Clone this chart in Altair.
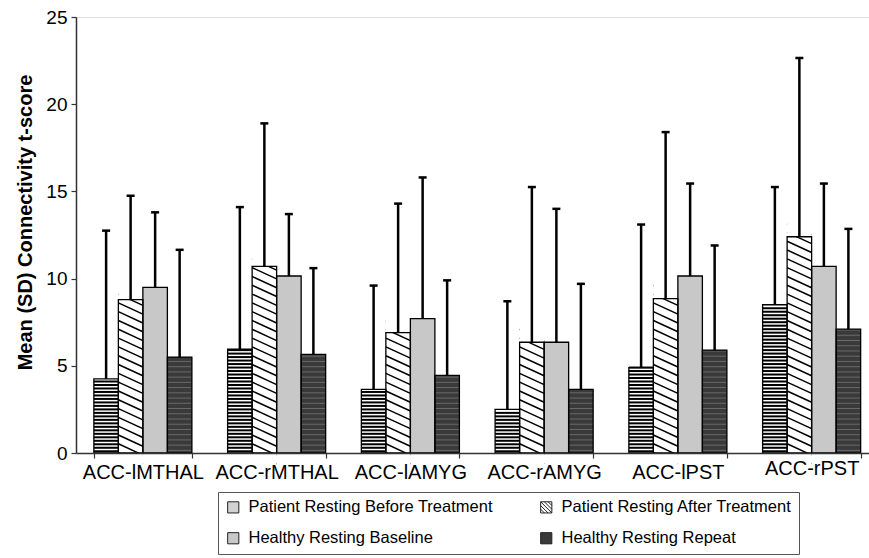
import altair as alt
import pandas as pd

groups = ["ACC-lMTHAL", "ACC-rMTHAL", "ACC-lAMYG", "ACC-rAMYG", "ACC-lPST", "ACC-rPST"]
series = ["Patient Resting Before Treatment", "Patient Resting After Treatment",
          "Healthy Resting Baseline", "Healthy Resting Repeat"]

before_mean = [4.25, 5.95, 3.65, 2.5, 4.9, 8.5]
after_mean = [8.8, 10.7, 6.9, 6.35, 8.85, 12.4]
baseline_mean = [9.5, 10.15, 7.7, 6.35, 10.15, 10.7]
repeat_mean = [5.5, 5.65, 4.45, 3.65, 5.9, 7.1]

before_sd = [8.5, 8.15, 5.95, 6.2, 8.2, 6.75]
after_sd = [5.95, 8.2, 7.4, 8.9, 9.55, 10.25]
baseline_sd = [4.3, 3.55, 8.1, 7.65, 5.3, 4.75]
repeat_sd = [6.15, 4.95, 5.45, 6.05, 6.0, 5.75]

means = [before_mean, after_mean, baseline_mean, repeat_mean]
sds = [before_sd, after_sd, baseline_sd, repeat_sd]

rows = []
for s, m_list, sd_list in zip(series, means, sds):
    for g, m, sd in zip(groups, m_list, sd_list):
        rows.append({"group": g, "series": s, "mean": m, "sd": sd})
df = pd.DataFrame(rows)

FONT = "Liberation Sans"
YTITLE = "Mean (SD) Connectivity t-score"

x_enc = alt.X(
    "group:N", sort=groups, title=None,
    scale=alt.Scale(range=[0, 802.5], paddingInner=0.267, paddingOuter=0.1335),
    axis=alt.Axis(labelAngle=0, labelFontSize=20, labelColor="black", labelFont=FONT,
                  tickBand="extent", tickSize=5, tickColor="#333", tickWidth=1.2,
                  domainColor="#333", domainWidth=1.5, labelOverlap=False, labelLimit=300,
                  labelPadding={"condition": {"test": "datum.value == 'ACC-rPST'", "value": 0}, "value": 4},
                  zindex=1),
)
xo_enc = alt.XOffset("series:N", sort=series, scale=alt.Scale(paddingInner=0, paddingOuter=0))


def y_enc(field):
    return alt.Y(
        field, title=YTITLE,
        scale=alt.Scale(domain=[0, 25], nice=False, zero=False),
        axis=alt.Axis(values=[0, 5, 10, 15, 20, 25], grid=False, labelFontSize=19, labelColor="black",
                      labelFont=FONT, tickSize=5, tickColor="#333", tickWidth=1.2,
                      domainColor="#333", domainWidth=1.5, labelPadding=4,
                      titleFontSize=20, titleFontWeight="bold", titleFont=FONT, titleColor="black",
                      titlePadding=10, titleY=205),
    )


base = alt.Chart(df).encode(x=x_enc, xOffset=xo_enc)

# base fills (texture layers are drawn on top)
bars = base.transform_calculate(
    fc=f"datum.series == '{series[2]}' ? '#c8c8c8' : (datum.series == '{series[3]}' ? '#3a3a3a' : 'white')"
).mark_bar().encode(
    y=y_enc("mean:Q"),
    fill=alt.Fill("fc:N", scale=None),
)

stripes_h = base.transform_filter(
    alt.datum.series == series[0]
).transform_calculate(
    ys="sequence(0.1, datum.mean, 0.2)"
).transform_flatten(["ys"]).mark_tick(
    orient="horizontal", size=24.5, thickness=2, color="black", opacity=1
).encode(y=y_enc("ys:Q"))

stripes_dark = base.transform_filter(
    alt.datum.series == series[3]
).transform_calculate(
    ys="sequence(0.15, datum.mean, 0.3)"
).transform_flatten(["ys"]).mark_tick(
    orient="horizontal", size=24.5, thickness=1, color="#6a6a6a", opacity=1
).encode(y=y_enc("ys:Q"))

stripes_d = base.transform_filter(
    alt.datum.series == series[1]
).transform_calculate(
    ys="sequence(-0.3, datum.mean + 0.45, 0.505)"
).transform_flatten(["ys"]).mark_point(
    shape="M-1,-0.46L1,0.46", size=600, filled=False, color="black", strokeWidth=1.5, opacity=1
).encode(y=y_enc("ys:Q"))

mask_top = base.transform_filter(
    alt.datum.series == series[1]
).transform_calculate(
    mtop="datum.mean + 0.85"
).mark_bar(color="white").encode(y=y_enc("mean:Q"), y2="mtop:Q")

mask_bot = base.transform_filter(
    alt.datum.series == series[1]
).transform_calculate(
    lo="-0.85", zr="0"
).mark_bar(color="white").encode(y=y_enc("lo:Q"), y2="zr:Q")

outlines = base.mark_bar(fillOpacity=0, stroke="black", strokeWidth=1.3).encode(y=y_enc("mean:Q"))

err = base.transform_calculate(top="datum.mean + datum.sd").mark_rule(
    color="black", strokeWidth=2.5
).encode(y=y_enc("mean:Q"), y2="top:Q")

caps = base.transform_calculate(top="datum.mean + datum.sd").mark_tick(
    orient="horizontal", size=8, thickness=2.5, color="black", opacity=1
).encode(y=y_enc("top:Q"))

hatch_sym = ("M-1,-1H1V1H-1Z M-1,-0.33L0.33,1 M-1,0.33L-0.33,1 M-1,-1L1,1 "
             "M-0.33,-1L1,0.33 M0.33,-1L1,-0.33")

leg = alt.Legend(title=None, orient="none", legendX=142, legendY=475, columns=2, direction="horizontal",
                 padding=7, rowPadding=14, columnPadding=45, labelOffset=7,
                 strokeColor="#555", fillColor="white", symbolSize=125,
                 symbolStrokeColor="#222", symbolStrokeWidth=1,
                 labelFontSize=16.5, labelFont=FONT, labelColor="black", labelLimit=400)

legend_layer = alt.Chart(df).transform_filter("false").mark_point(filled=True, opacity=1).encode(
    fill=alt.Fill("series:N", sort=series,
                  scale=alt.Scale(domain=series, range=["#d2d2d2", "white", "#c8c8c8", "#3a3a3a"]),
                  legend=leg),
    shape=alt.Shape("series:N", sort=series,
                    scale=alt.Scale(domain=series, range=["square", hatch_sym, "square", "square"]),
                    legend=leg),
)

chart = alt.layer(
    bars, stripes_h, stripes_dark, stripes_d, mask_top, mask_bot, outlines, err, caps, legend_layer
).properties(
    width=793, height=436,
    autosize=alt.AutoSizeParams(type="none"),
    padding={"left": 76, "top": 17, "right": 0, "bottom": 105},
).configure_view(stroke=None).configure(background="white", font=FONT)

chart.save("out.html", embed_options={"renderer": "svg", "actions": False})
